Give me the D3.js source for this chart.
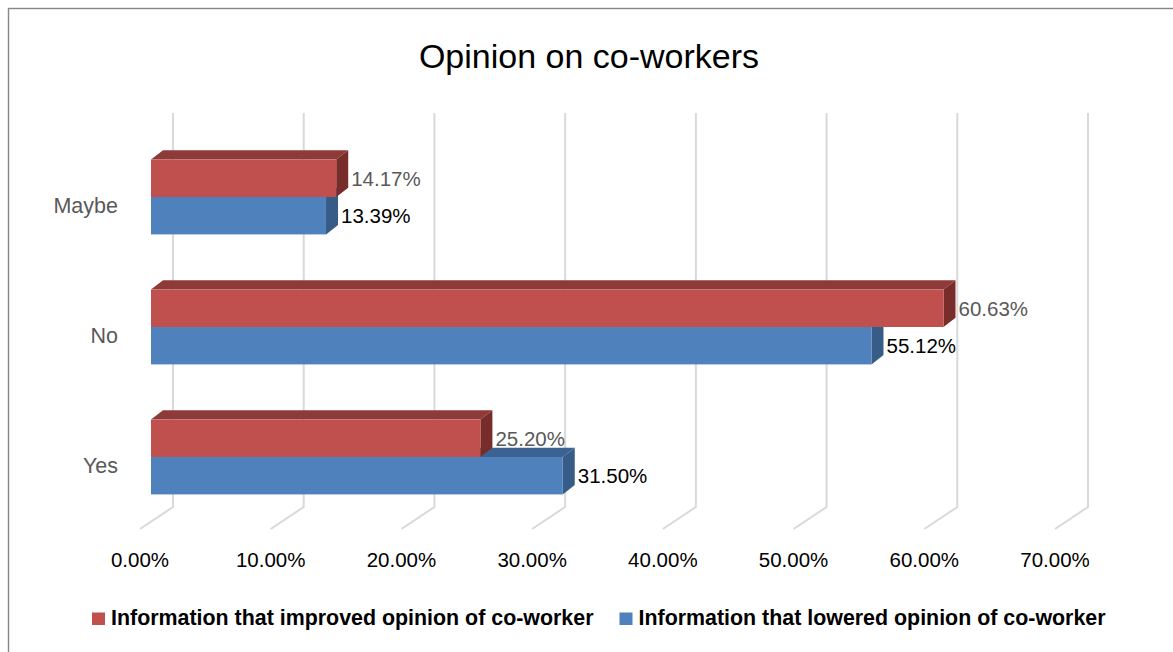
<!DOCTYPE html>
<html>
<head>
<meta charset="utf-8">
<script src="https://cdn.jsdelivr.net/npm/d3@7"></script>
<style>
  html, body { margin: 0; padding: 0; background: #fff; }
  svg { display: block; }
  text { font-family: "Liberation Sans", Arial, sans-serif; }
</style>
</head>
<body>
<svg id="chart" width="1173" height="652"></svg>
<script>
// Survey answers per category (percent of respondents)
const categories = ["Maybe", "No", "Yes"];
const improvedValues = [14.17, 60.63, 25.20];
const loweredValues = [13.39, 55.12, 31.50];
const tickValues = [0, 10, 20, 30, 40, 50, 60, 70];
const seriesNames = [
  "Information that improved opinion of co-worker",
  "Information that lowered opinion of co-worker"
];

const W = 1173, H = 652;
const svg = d3.select("#chart");

// Chart frame
svg.append("rect")
  .attr("x", 8.5).attr("y", 8.5)
  .attr("width", W + 20).attr("height", H + 20)
  .attr("fill", "#fff").attr("stroke", "#868686").attr("stroke-width", 1.4);

// Title
svg.append("text")
  .attr("x", 589).attr("y", 68)
  .attr("text-anchor", "middle")
  .attr("font-size", 34)
  .attr("fill", "#000")
  .text("Opinion on co-workers");

// Scales on the front plane of the 3D box
const x = d3.scaleLinear().domain([0, 70]).range([140, 1055]);
const y = d3.scaleBand().domain(categories).range([140, 530]);

const floorY = 529;            // front edge of the floor
const depth = { dx: 33, dy: -22 };  // full box depth
const wallTop = 113;           // top of the back wall
const barOff = { dx: 11, dy: -8 };  // bar front face offset into the box
const barDepth = { dx: 12, dy: -9.3 };
const barH = 37.4;

// Gridlines: back wall verticals plus floor diagonals
const grid = svg.append("g").attr("fill", "none")
  .attr("stroke", "#d9d9d9").attr("stroke-width", 2);
tickValues.forEach(v => {
  const fx = x(v);
  const bx = fx + depth.dx;
  const by = floorY + depth.dy;
  grid.append("path")
    .attr("d", d3.line()([[bx, wallTop], [bx, by], [fx, floorY]]));
});

// Tick labels along the floor front edge
const fmt = d3.format(".2f");
svg.append("g").selectAll("text")
  .data(tickValues)
  .join("text")
  .attr("x", d => x(d))
  .attr("y", 567)
  .attr("text-anchor", "middle")
  .attr("font-size", 20.5)
  .attr("fill", "#000")
  .text(d => fmt(d) + "%");

// Category labels
svg.append("g").selectAll("text")
  .data(categories)
  .join("text")
  .attr("x", 118)
  .attr("y", d => y(d) + y.bandwidth() / 2 + 7.5)
  .attr("text-anchor", "end")
  .attr("font-size", 21.5)
  .attr("fill", "#595959")
  .text(d => d);

// 3D bar drawing: top face, right side face, front face
function drawBar(g, v, top, colors) {
  const x0 = x(0) + barOff.dx;
  const x1 = x(v) + barOff.dx;
  const b = top + barH;
  const dx = barDepth.dx, dy = barDepth.dy;
  g.append("path")
    .attr("d", d3.line()([[x0, top], [x1, top], [x1 + dx, top + dy], [x0 + dx, top + dy]]) + "Z")
    .attr("fill", colors.top);
  g.append("path")
    .attr("d", d3.line()([[x1, top], [x1 + dx, top + dy], [x1 + dx, b + dy], [x1, b]]) + "Z")
    .attr("fill", colors.side);
  g.append("rect")
    .attr("x", x0).attr("y", top)
    .attr("width", x1 - x0).attr("height", barH)
    .attr("fill", colors.front);
  return x1;
}

const redColors = { front: "#c0504d", top: "#8e3a38", side: "#792d2b" };
const blueColors = { front: "#4f81bd", top: "#3b6291", side: "#385c88" };

const bars = svg.append("g");
const labels = svg.append("g").attr("font-size", 20.5);

categories.forEach((c, i) => {
  const center = y(c) + y.bandwidth() / 2 + barOff.dy;
  const redTop = center - barH;
  const blueTop = center;
  const g = bars.append("g");
  // lower (blue) bar first so the upper bar's faces sit over it
  const bx1 = drawBar(g, loweredValues[i], blueTop, blueColors);
  const rx1 = drawBar(g, improvedValues[i], redTop, redColors);

  labels.append("text")
    .attr("x", rx1 + 15)
    .attr("y", redTop + barH / 2 + 7.3)
    .attr("fill", "#595959")
    .text(fmt(improvedValues[i]) + "%");
  labels.append("text")
    .attr("x", bx1 + 15)
    .attr("y", blueTop + barH / 2 + 7.3)
    .attr("fill", "#000")
    .text(fmt(loweredValues[i]) + "%");
});

// Legend
const legend = svg.append("g").attr("font-size", 21.4).attr("font-weight", "bold");
const legendItems = [
  { name: seriesNames[0], color: redColors.front, x: 92 },
  { name: seriesNames[1], color: blueColors.front, x: 619.5 }
];
legendItems.forEach(d => {
  legend.append("rect")
    .attr("x", d.x).attr("y", 612.5)
    .attr("width", 13).attr("height", 12.5)
    .attr("fill", d.color);
  legend.append("text")
    .attr("x", d.x + 19).attr("y", 624.5)
    .attr("fill", "#000")
    .text(d.name);
});
</script>
</body>
</html>
